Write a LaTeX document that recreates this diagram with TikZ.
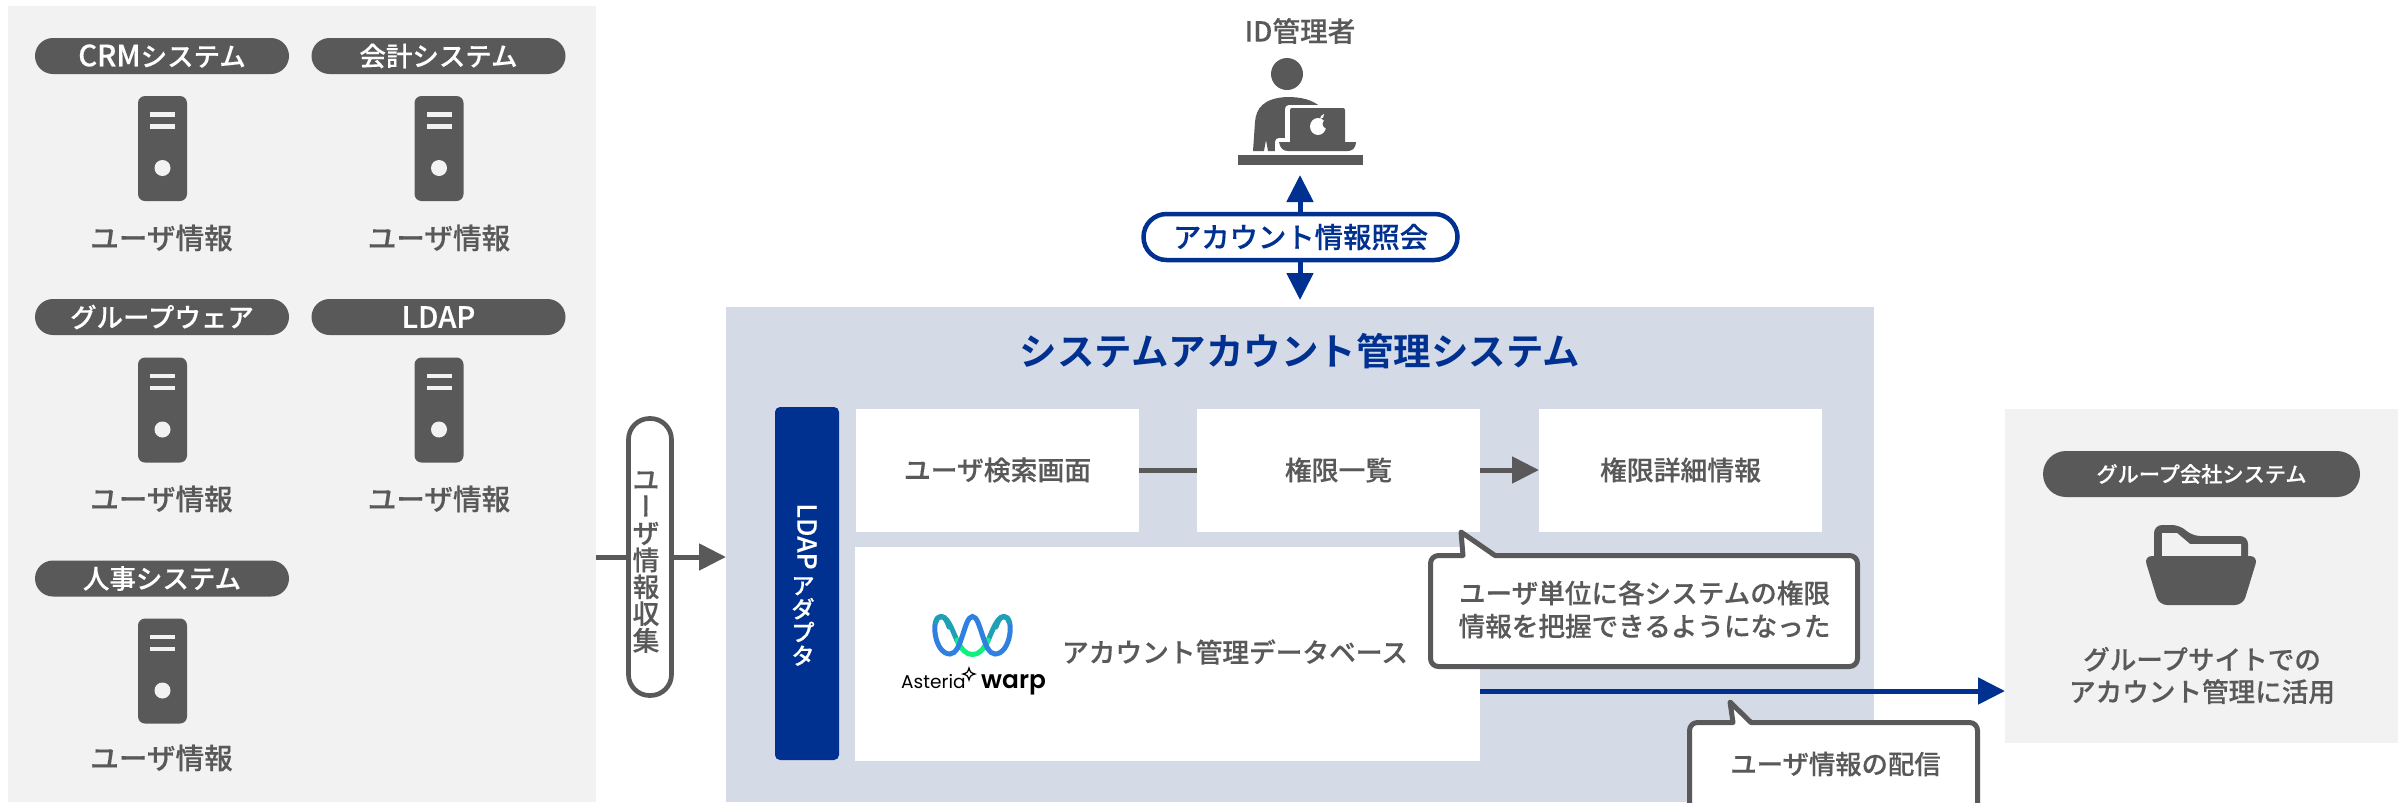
\documentclass[tikz,border=0pt]{standalone}
\usepackage{fontspec}
\setmainfont{Noto Sans CJK JP}
\newfontfamily\jpm[FakeBold=0.25]{Noto Sans CJK JP Medium}
\newfontfamily\jpb{Noto Sans CJK JP Bold}
\newfontfamily\jpv[RawFeature=+vert,FakeBold=0.25]{Noto Sans CJK JP Medium}
\newfontfamily\logol{Poppins}
\newfontfamily\logob{Poppins SemiBold}
\usetikzlibrary{arrows.meta,calc}
\definecolor{ink}{HTML}{595959}
\definecolor{pale}{HTML}{F2F2F2}
\definecolor{mist}{HTML}{D5DBE6}
\definecolor{navy}{HTML}{003090}
\definecolor{lteal}{HTML}{1FA0B4}
\definecolor{lgreen}{HTML}{10F080}
\definecolor{lblue}{HTML}{2F80E0}
\newlength\pxu
\setlength\pxu{0.03cm}
\tikzset{
  x=0.03cm,y=-0.03cm,
  sized/.style 2 args={minimum width=#1\pxu,minimum height=#2\pxu,inner sep=0pt,outer sep=0pt},
  grouppill/.style={fill=ink,rounded corners=18\pxu,sized={254}{36},text=white,font=\jpm\fontsize{22.6}{26}\selectfont},
  infolabel/.style={text=ink,font=\jpm\fontsize{24.4}{28}\selectfont,inner sep=0pt,align=center},
  whitebox/.style={fill=white,inner sep=0pt,outer sep=0pt},
  grayarrow/.style={draw=ink,line width=5\pxu,-{Triangle[length=0.81cm,width=0.78cm]}},
  bluearrow/.style={draw=navy,line width=5\pxu,-{Triangle[length=0.81cm,width=0.78cm]}},
  callout/.style={draw=ink,fill=white,line width=5\pxu,line join=round},
}
\newcommand{\serverat}[3]{%
  \node[fill=ink,rounded corners=7\pxu,sized={49}{105}] (#1) at (#2,#3) {};
  \fill[pale] ($(#1)+(-12.5,-36.5)$) rectangle ($(#1)+(12.5,-32)$);
  \fill[pale] ($(#1)+(-12.5,-24.5)$) rectangle ($(#1)+(12.5,-20)$);
  \fill[pale] ($(#1)+(0,19.5)$) circle (8);
}
\begin{document}
\begin{tikzpicture}
\useasboundingbox (0,0) rectangle (2405,802);
\clip (0,0) rectangle (2405,802);
% panels
\node[fill=pale,sized={588}{796}] (sources) at (302,404) {};
\node[fill=mist,sized={1148}{495}] (main) at (1300,554.5) {};
\node[fill=pale,sized={393}{334}] (group) at (2201.5,576) {};
% sources
\node[grouppill] (p1) at (162,56) {{\fontsize{25}{26}\selectfont CRM}システム};
\node[grouppill] (p2) at (438.5,56) {会計システム};
\node[grouppill] (p3) at (162,317) {グループウェア};
\node[grouppill] (p4) at (438.5,317) {\fontsize{25}{26}\selectfont LDAP};
\node[grouppill] (p5) at (162,578.5) {人事システム};
\serverat{s1}{162.5}{148.5}
\serverat{s2}{439}{148.5}
\serverat{s3}{162.5}{410}
\serverat{s4}{439}{410}
\serverat{s5}{162.5}{671}
\node[infolabel] (u1) at (161.5,238) {ユーザ情報};
\node[infolabel] (u2) at (439,238) {ユーザ情報};
\node[infolabel] (u3) at (161.5,499) {ユーザ情報};
\node[infolabel] (u4) at (439,499) {ユーザ情報};
\node[infolabel] (u5) at (161.5,758) {ユーザ情報};
% collect
\node[draw=ink,fill=white,line width=4.7\pxu,rounded corners=21\pxu,sized={43}{277}] (collect) at (650,557) {};
\node[text=ink,align=center,inner sep=0pt,font=\jpm\fontsize{22.8}{22.9}\selectfont] (collecttext) at (646,562)
  {\makebox[0pt]{ユ}\\\makebox[0pt]{\jpv ー}\\\makebox[0pt]{ザ}\\\makebox[0pt]{情}\\\makebox[0pt]{報}\\\makebox[0pt]{収}\\\makebox[0pt]{集}};
\draw[draw=ink,line width=5\pxu] (sources.east |- collect) -- (collect.west);
\draw[grayarrow] (collect.east) -- (main.west |- collect);
% admin
\node[text=ink,font=\jpm\fontsize{23.6}{27}\selectfont,inner sep=0pt] (admin) at (1300,31) {ID管理者};
\fill[ink] (1287,74) circle (16);
\fill[ink] (1253,151) -- (1255,122) .. controls (1256,108) and (1264,98) .. (1287,97)
  .. controls (1300,97) and (1312,99) .. (1322,108) -- (1322,151) -- (1268,151) -- (1266,140) -- (1264,151) -- cycle;
\fill[white,rounded corners=4\pxu] (1285,105) rectangle (1350,145);
\fill[white,rounded corners=4\pxu] (1275,138) rectangle (1360,155);
\fill[ink,rounded corners=2\pxu] (1290,108) rectangle (1345,145);
\fill[ink] (1279,142) -- (1356,142) .. controls (1356,148) and (1352,151) .. (1348,151) -- (1288,151) .. controls (1283,151) and (1280,148) .. (1279,142) -- cycle;
\fill[white] (1314,127) circle (3.6) (1318,126.5) ellipse (8 and 8.5);
\fill[ink] (1327,124) circle (4.5);
\fill[white] (1320,119) .. controls (1320,116) and (1322,115) .. (1324,114) .. controls (1324,117) and (1323,119) .. (1320,119) -- cycle;
\fill[ink] (1238,155) rectangle (1363,165);
\node[draw=navy,fill=white,line width=4.5\pxu,rounded corners=23\pxu,sized={314}{46},text=navy,font=\jpm\fontsize{24.2}{28}\selectfont] (query) at (1300.5,237) {アカウント情報照会};
\coordinate (queryup) at (1300,175);
\coordinate (querydown) at (1300,300);
\draw[bluearrow] (query.north -| queryup) -- (queryup);
\draw[bluearrow] (query.south -| querydown) -- (querydown);
% main
\node[text=navy,font=\jpb\fontsize{32}{38}\selectfont,inner sep=0pt] (title) at (1300,351) {システムアカウント管理システム};
\node[fill=navy,rounded corners=5\pxu,sized={64}{353}] (adapter) at (807,583.5) {};
\node[rotate=-90,text=white,inner sep=0pt,font=\jpm\fontsize{22.5}{25}\selectfont] (adapterlatin) at (807,536.5) {LDAP};
\node[text=white,align=center,inner sep=0pt,font=\jpm\fontsize{19.8}{20}\selectfont] (adapterkana) at (803,621.5)
  {\makebox[0pt]{ア}\\\makebox[0pt]{ダ}\\\makebox[0pt]{プ}\\\makebox[0pt]{タ}};
\node[whitebox,sized={283}{123},text=ink,font=\jpm\fontsize{22.9}{27}\selectfont] (search) at (997.5,470) {ユーザ検索画面};
\node[whitebox,sized={283}{123},text=ink,font=\jpm\fontsize{22.9}{27}\selectfont] (list) at (1338.5,470) {権限一覧};
\node[whitebox,sized={283}{123},text=ink,font=\jpm\fontsize{22.9}{27}\selectfont] (detail) at (1680.5,470) {権限詳細情報};
\draw[draw=ink,line width=5\pxu] (search) -- (list);
\draw[grayarrow] (list) -- (detail);
\node[whitebox,sized={625}{214}] (db) at (1167.5,654) {};
\node[text=ink,font=\jpm\fontsize{22.8}{27}\selectfont,inner sep=0pt] (dbtext) at (1235,652) {アカウント管理データベース};
% logo
\begin{scope}[line width=5\pxu,line cap=round]
\draw[lteal] (941,616.5) .. controls (950,616.5) and (955,640) .. (961,648);
\draw[lteal] (1004,616.5) .. controls (995,616.5) and (990,640) .. (984,648);
\draw[lgreen] (957,640) .. controls (962,650) and (966,654.5) .. (972.5,654.5) .. controls (979,654.5) and (983,650) .. (988,640);
\draw[lblue] (941,616.5) .. controls (930,616.5) and (934,654) .. (950,654) .. controls (962,654) and (964,616.5) .. (972.5,616.5) .. controls (981,616.5) and (983,654) .. (995,654) .. controls (1011,654) and (1015,616.5) .. (1004,616.5);
\draw[lteal] (936,622) .. controls (937,618) and (939,616.5) .. (941,616.5) .. controls (945,616.5) and (947,621) .. (949,627);
\draw[lteal] (1009,622) .. controls (1008,618) and (1006,616.5) .. (1004,616.5) .. controls (1000,616.5) and (998,621) .. (996,627);
\end{scope}
\node[anchor=base west,inner sep=0pt,font=\logol\fontsize{15.8}{18}\selectfont] (asteria) at (901,688) {Asteria};
\node[anchor=base west,inner sep=0pt,font=\logob\fontsize{21.2}{26}\selectfont] (warp) at (981,688) {warp};
\draw[line width=1.2\pxu,fill=white] (969,668) .. controls (970,672) and (971,673) .. (975,674) .. controls (971,675) and (970,676) .. (969,680) .. controls (968,676) and (967,675) .. (963,674) .. controls (967,673) and (968,672) .. (969,668) -- cycle;
% callouts
\draw[callout] (1463,555.5) -- (1461,532) -- (1495,555.5) -- (1849.5,555.5) arc[start angle=-90,end angle=0,radius=8] -- (1857.5,658.5) arc[start angle=0,end angle=90,radius=8] -- (1438.5,666.5) arc[start angle=90,end angle=180,radius=8] -- (1430.5,563.5) arc[start angle=180,end angle=270,radius=8] -- cycle;
\node[infolabel,font=\jpm\fontsize{22.7}{28.2}\selectfont] (note1) at (1644.5,609.5) {ユーザ単位に各システムの権限\\情報を把握できるようになった};
\draw[callout] (1733,722.5) -- (1730,702) -- (1751,722.5) -- (1969.5,722.5) arc[start angle=-90,end angle=0,radius=8] -- (1977.5,820) -- (1689.5,820) -- (1689.5,730.5) arc[start angle=180,end angle=270,radius=8] -- cycle;
\node[infolabel,font=\jpm\fontsize{22.5}{27}\selectfont] (note2) at (1835.5,764) {ユーザ情報の配信};
% group
\coordinate (yd) at (0,691);
\draw[bluearrow] (db.east |- yd) -- (group.west |- yd);
\node[fill=ink,rounded corners=23\pxu,sized={317}{46},text=white,font=\jpm\fontsize{18.1}{22}\selectfont] (gp) at (2201.5,474) {グループ会社システム};
\fill[ink,rounded corners=8\pxu] (2154,565) -- (2154,525) -- (2180,525) -- (2192,536) -- (2248,536) -- (2248,565) -- cycle;
\fill[pale] (2162,556) -- (2162,533) -- (2177,533) -- (2190,544) -- (2241,544) -- (2241,556) -- cycle;
\fill[ink,rounded corners=8\pxu] (2144,556) -- (2258,556) -- (2243,605) -- (2159,605) -- cycle;
\node[infolabel,font=\jpm\fontsize{22.7}{27.5}\selectfont] (gnote) at (2202,675.5) {グループサイトでの\\アカウント管理に活用};
\end{tikzpicture}
\end{document}
